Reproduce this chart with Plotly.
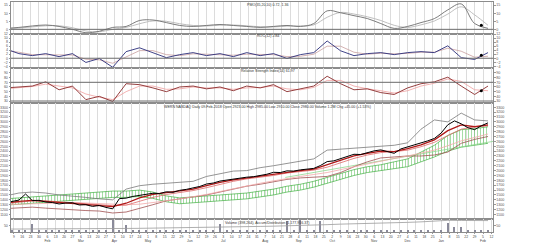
import pandas as pd
import plotly.graph_objects as go
from plotly.subplots import make_subplots

# ---------------- data ----------------
d_fast = list(range(0, 289, 4))   # trading-day index, 73 points
d_slow = list(range(0, 289, 8))   # 37 points

price = [1340,1375,1395,1520,1385,1390,1355,1345,1315,1335,1340,1295,1300,1265,1285,1245,1215,1425,1435,1470,
         1495,1525,1535,1530,1565,1555,1595,1615,1645,1675,1725,1745,1785,1805,1835,1845,1865,1875,1895,1925,
         1965,1960,1995,1990,2015,2025,2045,2105,2185,2200,2250,2290,2335,2330,2375,2405,2425,2395,2355,2445,
         2485,2525,2555,2610,2660,2770,2940,3020,2960,2880,2840,2920,2980]
volume = [8,6,9,10,60,7,6,8,7,9,7,6,9,8,10,8,95,10,55,8,7,6,8,7,8,7,9,6,8,8,7,7,60,8,
          6,7,8,7,9,8,7,8,85,8,92,7,9,85,10,8,7,8,7,9,8,7,8,8,9,7,8,8,9,10,9,11,70,40,
          35,10,9,8,11]

ma_fast = [1330,1370,1390,1370,1340,1335,1310,1290,1260,1330,1440,1510,1545,1575,1620,1690,1760,1810,1850,1880,
           1935,1975,2000,2030,2120,2210,2300,2355,2400,2390,2450,2530,2630,2820,2940,2900,2940]
ma_mid = [1320,1350,1380,1380,1360,1340,1320,1300,1280,1290,1370,1450,1510,1550,1590,1650,1720,1780,1830,1860,
          1900,1950,1980,2010,2070,2160,2250,2320,2370,2390,2420,2490,2580,2720,2850,2900,2920]
ma_slow = [1300,1310,1330,1340,1350,1345,1335,1320,1305,1300,1310,1340,1380,1420,1460,1510,1570,1630,1690,1740,
           1790,1840,1880,1920,1960,2020,2080,2140,2200,2250,2300,2360,2420,2510,2610,2680,2750]
upper = [1480,1540,1560,1540,1500,1480,1450,1420,1400,1620,1690,1720,1735,1750,1780,1880,1930,1990,2000,2060,
         2100,2150,2190,2240,2420,2440,2470,2490,2500,2520,2570,2850,3040,3000,3180,3040,3020]
lower = [1220,1240,1250,1230,1210,1200,1180,1170,1130,1150,1220,1300,1380,1420,1460,1500,1560,1620,1680,1720,
         1770,1820,1850,1870,1880,1960,2080,2180,2260,2280,2300,2300,2320,2380,2560,2640,2700]
green_top = [1420,1440,1460,1480,1500,1520,1540,1560,1580,1580,1600,1560,1480,1440,1460,1480,1500,1520,1540,1580,
             1620,1680,1720,1780,1860,1940,2020,2080,2120,2180,2240,2380,2520,2720,2840,2860,2900]
green_bot = [1290,1310,1330,1350,1370,1390,1410,1430,1450,1450,1470,1430,1360,1320,1340,1360,1380,1400,1420,1460,
             1500,1560,1600,1660,1740,1820,1900,1960,2000,2040,2080,2180,2280,2400,2480,2520,2560]
trend_d = [167, 291]
trend_v = [1860, 2600]

p1_a = [0.6,1.2,2.1,2.7,1.8,0.0,-2.1,-1.2,1.2,1.8,5.5,5.8,4.2,2.4,1.8,2.4,3.0,2.4,1.8,1.2,1.8,2.4,1.8,3.6,
        11.5,10.3,8.5,6.7,3.6,0.6,1.8,4.2,6.7,12.1,15.8,3.6,0.6]
p1_b = [0.3,0.8,1.5,2.2,2.2,1.0,-1.0,-1.5,0.0,1.2,3.5,5.2,5.0,3.5,2.4,2.1,2.6,2.7,2.2,1.6,1.5,2.0,2.1,2.8,
        7.5,10.5,9.5,7.8,5.5,2.5,1.2,2.8,5.2,9.5,14.0,9.0,2.5]
p2_line = [4.7,2.3,1.3,2.3,0.8,2.3,-2.1,-0.1,-4.5,3.3,5.2,2.8,0.3,1.8,2.8,1.3,2.3,0.8,2.8,1.3,2.3,-0.1,1.8,2.8,
           8.6,3.7,1.3,2.3,2.8,1.8,2.8,3.3,2.8,6.2,0.3,-0.6,2.8]
p2_signal = [3.8,3.0,1.8,1.8,1.5,1.6,-0.5,-0.8,-2.5,0.5,3.8,3.8,1.8,1.3,2.2,2.0,1.8,1.5,2.0,1.8,1.8,0.8,1.0,2.0,
             6.0,6.0,3.0,2.0,2.5,2.2,2.4,3.0,3.0,5.0,3.5,0.5,1.0]
p3_line = [58,60,62,71,54,62,33,40,29,67,65,58,50,60,62,56,60,52,62,58,65,50,56,62,83,67,54,56,48,44,58,67,71,81,
           62,44,62]
p3_signal = [56,59,61,66,62,58,45,38,33,50,62,62,55,56,60,58,58,55,58,59,62,56,54,59,74,74,62,56,52,47,52,62,68,77,
             72,54,52]
accdist = [23,23,24,24,25,25,26,26,27,28,29,30,31,33,35,37,38,40,42,44,46,48,50,53,58,62,64,66,69,72,76,80,85,92,
           91,90,90]
mark_d = [284]
p1_mark = [2.5]
p2_mark = [1.5]
p3_mark = [52]

titles = ["PMO(35,20,10) 0.72, 1.36",
          "ROC(12) 2.84",
          "Relative Strength Index(14) 61.97",
          "WERN NASDAQ Daily 09-Feb-2018 Open 2923.00 High 2985.00 Low 2910.00 Close 2980.00 Volume 1.2M Chg +45.00 (+1.53%)",
          "Volume (398,264), Accum/Distribution (1,177,916.37)"]

dates = pd.bdate_range("2017-01-02", periods=300)
tickvals = list(range(0, 292, 5))
ticktext = []
for t in tickvals:
    txt = str(dates[t].day)
    if t == 0 or dates[t].month != dates[t - 5].month:
        txt += "<br>" + dates[t].strftime("%b")
    ticktext.append(txt)

# ---------------- figure ----------------
fig = make_subplots(rows=5, cols=1, shared_xaxes=True, vertical_spacing=0,
                    row_heights=[33, 35, 36, 119, 13],
                    specs=[[{"secondary_y": True}]] * 5)

def line(x, y, color, width=0.8, row=1, **kw):
    fig.add_trace(go.Scatter(x=x, y=y, mode="lines", line=dict(color=color, width=width),
                             hoverinfo="skip", showlegend=False, **kw), row=row, col=1)

# panel 1
line(d_slow, p1_b, "#b8b8b8", 0.9, 1, line_shape="spline")
line(d_slow, p1_a, "#6e6e6e", 0.9, 1, line_shape="spline")
# panel 2
line(d_slow, p2_signal, "#c9a0a0", 0.8, 2)
line(d_slow, p2_line, "#2b2f7a", 0.9, 2)
# panel 3
line(d_slow, p3_signal, "#f0a0a0", 0.8, 3)
line(d_slow, p3_line, "#8a2a2a", 0.9, 3)
# main panel
line(d_slow, green_bot, "#40b040", 0.7, 4)
fig.add_trace(go.Scatter(x=d_slow, y=green_top, mode="lines", line=dict(color="#40b040", width=0.7),
                         fill="tonexty", fillcolor="rgba(0,0,0,0)",
                         fillpattern=dict(shape="|", fgcolor="#3cb43c", size=3, solidity=0.3),
                         hoverinfo="skip", showlegend=False), row=4, col=1)
line(trend_d, trend_v, "#8fd88f", 0.8, 4)
line(d_slow, upper, "#7a7a7a", 0.8, 4)
line(d_slow, lower, "#a05050", 0.8, 4)
line(d_slow, ma_slow, "#f2a8a8", 0.8, 4)
line(d_slow, ma_mid, "#e06868", 0.8, 4)
line(d_slow, ma_fast, "#b01818", 1.3, 4)
line(d_fast, price, "#000000", 1.0, 4)
# volume panel
fig.add_trace(go.Bar(x=d_fast, y=volume, width=0.7, marker=dict(color="#8a8a9a", line=dict(width=0)),
                     hoverinfo="skip", showlegend=False), row=5, col=1)
line(d_slow, accdist, "#9a9a9a", 0.8, 5)

# small end markers
for r, m in [(1, p1_mark), (2, p2_mark), (3, p3_mark)]:
    fig.add_trace(go.Scatter(x=mark_d, y=m, mode="markers",
                             marker=dict(symbol="circle", size=3, color="black"),
                             hoverinfo="skip", showlegend=False), row=r, col=1)

# invisible traces for left-side axes
for r in range(1, 6):
    fig.add_trace(go.Scatter(x=[None], y=[None], mode="lines", hoverinfo="skip", showlegend=False),
                  row=r, col=1, secondary_y=True)

ranges = [[-3, 17], [-5, 12], [25, 100], [1000, 3380], [0, 100]]
ticks = [[0, 5, 10, 15], list(range(-4, 13, 2)), list(range(30, 100, 10)),
         list(range(1100, 3380, 100)), [50]]
axis_common = dict(showgrid=False, zeroline=False, showline=True, mirror=True, linecolor="#8c8c8c",
                   linewidth=0.8, ticks="outside", ticklen=1.5, tickcolor="#999999",
                   tickfont=dict(size=3.6, color="#555555"))
for r in range(1, 6):
    fig.update_yaxes(range=ranges[r - 1], tickvals=ticks[r - 1], side="right", row=r, col=1,
                     secondary_y=False, **axis_common)
    fig.update_yaxes(range=ranges[r - 1], tickvals=ticks[r - 1], side="left", row=r, col=1,
                     secondary_y=True, **axis_common)

fig.update_xaxes(range=[3.3, 291.1], tickvals=tickvals, ticktext=ticktext, showgrid=True,
                 gridcolor="#dcdcdc", gridwidth=0.6, zeroline=False, showline=True, mirror=True,
                 linecolor="#8c8c8c", linewidth=0.8, ticks="outside", ticklen=1, tickcolor="#999999",
                 tickfont=dict(size=3.4, color="#444444"), tickangle=0)

# reference lines
fig.add_hline(y=0, line=dict(color="#6a6a6a", width=1), row=1, col=1)
fig.add_hline(y=0, line=dict(color="#6a6a6a", width=1), row=2, col=1)
fig.add_hline(y=70, line=dict(color="#6a6a6a", width=1), row=3, col=1)
fig.add_hline(y=30, line=dict(color="#6a6a6a", width=1), row=3, col=1)

# titles
title_y = [3, 35, 71, 107, 226]
for t, yp in zip(titles, title_y):
    fig.add_annotation(text=t, xref="paper", yref="paper", x=0.5, y=1 - yp / 235,
                       showarrow=False, font=dict(size=3.6, color="#333333"), yanchor="middle")

fig.update_layout(width=536, height=243, margin=dict(l=6, r=12, t=0, b=8),
                  plot_bgcolor="white", paper_bgcolor="white", showlegend=False,
                  font=dict(family="Liberation Sans", size=4, color="#444444"), bargap=0)

fig.write_html("out.html")
